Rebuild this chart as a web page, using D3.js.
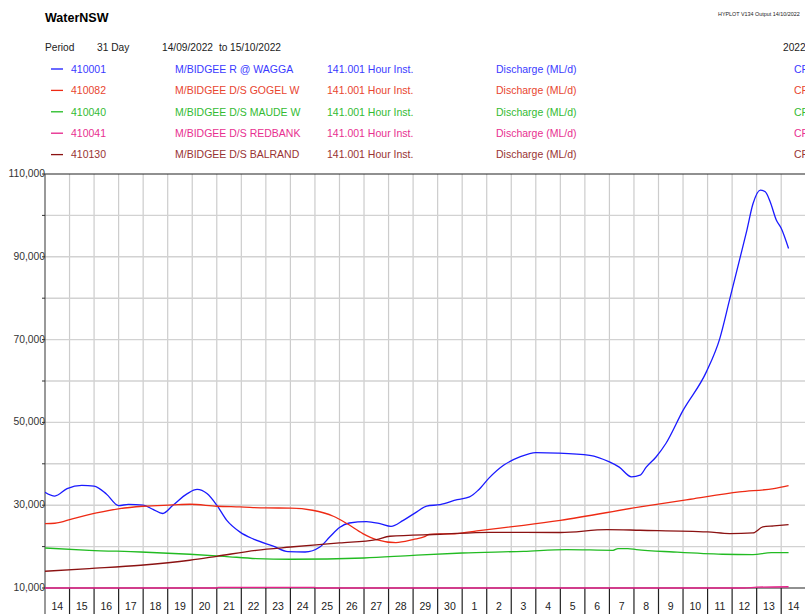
<!DOCTYPE html>
<html>
<head>
<meta charset="utf-8">
<script src="https://cdn.jsdelivr.net/npm/d3@7"></script>
<style>
  body { margin: 0; background: #fff; }
  svg { display: block; font-family: Arial, "Liberation Sans", sans-serif; }
</style>
</head>
<body>
<div id="chart"></div>
<script>
// period shown
const PERIOD_START = Date.UTC(2022, 8, 14);
const PERIOD_DAYS = 31;

// y axis
const Y_GRID = [10000, 20000, 30000, 40000, 50000, 60000, 70000, 80000, 90000, 100000, 110000];
const Y_LABELS = [10000, 30000, 50000, 70000, 90000, 110000];

// legend
const SITE_CODES = ['410001', '410082', '410040', '410041', '410130'];
const SITE_NAMES = ['M/BIDGEE R @ WAGGA', 'M/BIDGEE D/S GOGEL W', 'M/BIDGEE D/S MAUDE W', 'M/BIDGEE D/S REDBANK', 'M/BIDGEE D/S BALRAND'];
const SITE_VARS = ['141.001 Hour Inst.', '141.001 Hour Inst.', '141.001 Hour Inst.', '141.001 Hour Inst.', '141.001 Hour Inst.'];
const SITE_UNITS = ['Discharge (ML/d)', 'Discharge (ML/d)', 'Discharge (ML/d)', 'Discharge (ML/d)', 'Discharge (ML/d)'];

// series: day offset from 14/09/2022 00:00, and discharge ML/d
const WAGGA_DAY = [0, 0.4, 0.9, 1.5, 2.0, 2.5, 3.0, 3.4, 4.0, 4.4, 4.8, 5.2, 5.8, 6.2, 6.6, 7.0, 7.4, 7.95, 8.5, 9.3, 9.9, 10.6, 11.2, 11.6, 12.0, 12.4, 13.1, 13.65, 14.1, 14.6, 15.15, 15.55, 16.1, 16.8, 17.3, 17.65, 18.1, 18.7, 19.35, 20.0, 20.9, 22.2, 23.0, 23.4, 23.9, 24.25, 24.5, 24.9, 25.3, 26.0, 26.95, 27.5, 27.9, 28.3, 28.6, 28.85, 29.15, 29.35, 29.55, 29.8, 30.0, 30.3];
const WAGGA_Q = [33130, 32200, 34000, 34800, 34600, 32700, 29900, 30200, 30000, 29000, 28000, 29900, 32800, 33800, 32800, 30000, 26400, 23500, 21800, 20100, 18800, 18700, 19900, 22300, 24600, 25700, 26050, 25550, 24900, 26350, 28400, 29800, 30150, 31350, 32000, 33600, 36600, 39700, 41650, 42700, 42600, 42050, 40450, 39200, 36850, 37250, 39200, 41650, 44900, 52900, 62200, 70300, 79700, 89200, 96400, 102800, 106100, 105700, 103300, 98900, 96900, 92000];

const GOGEL_DAY = [0, 0.4, 1.15, 2.1, 3.05, 4.0, 5.2, 5.9, 7.0, 7.95, 9.0, 10.0, 10.9, 11.75, 12.3, 12.95, 13.5, 14.3, 15.0, 15.5, 15.65, 16.8, 17.6, 19.5, 21.0, 24.25, 26.3, 28.3, 29.7, 30.3];
const GOGEL_Q = [25570, 25640, 26770, 28130, 29190, 29750, 30060, 30230, 29750, 29580, 29340, 29300, 28780, 27330, 25570, 23150, 21700, 20970, 21700, 22450, 22950, 23150, 23780, 25150, 26360, 29580, 31440, 33200, 34020, 34750];

const MAUDE_DAY = [0, 1.8, 3.9, 5.9, 7.3, 8.6, 10.0, 13.0, 15.0, 17.0, 19.5, 21.25, 23.15, 23.35, 23.75, 24.1, 25.6, 27.6, 28.85, 29.6, 30.3];
const MAUDE_Q = [19670, 19110, 18700, 18150, 17660, 17110, 16940, 17250, 17900, 18460, 18870, 19280, 19110, 19520, 19520, 19280, 18700, 18150, 18070, 18560, 18560];

const REDBANK_DAY = [0, 7.0, 7.05, 11.0, 11.05, 28.5, 29.0, 30.3];
const REDBANK_Q = [10000, 10000, 10150, 10150, 10000, 10000, 10200, 10300];

const BALRAND_DAY = [0, 1.8, 3.9, 5.9, 7.0, 8.6, 10.0, 12.0, 13.5, 14.05, 16.1, 18.1, 21.0, 22.9, 24.25, 27.0, 27.9, 28.85, 29.25, 29.7, 30.3];
const BALRAND_Q = [14040, 14690, 15490, 16700, 17660, 19110, 19900, 20880, 21700, 22500, 22980, 23460, 23400, 24100, 23950, 23540, 23150, 23300, 24740, 24990, 25320];

const LINE_COLORS = ['#1a1aff', '#ee2a14', '#22bb22', '#e6228a', '#8b1212'];
const TEXT_COLORS = ['#3a3aff', '#e84530', '#33bb33', '#e83090', '#993333'];

const W = 805, H = 614;
const margin = { left: 45, top: 174, bottom: 588 };
const plotRight = margin.left + PERIOD_DAYS * 24.54;

const toDate = d => new Date(PERIOD_START + d * 864e5);

const x = d3.scaleUtc()
  .domain([toDate(0), toDate(PERIOD_DAYS)])
  .range([margin.left, plotRight]);

const y = d3.scaleLinear()
  .domain([10000, 110000])
  .range([margin.bottom, margin.top]);

const svg = d3.select('#chart')
  .append('svg')
  .attr('width', W)
  .attr('height', H);

// header
svg.append('text')
  .attr('x', 45).attr('y', 22)
  .attr('font-size', 12.5).attr('font-weight', 'bold')
  .attr('fill', '#000')
  .text('WaterNSW');

svg.append('text')
  .attr('x', 718).attr('y', 16)
  .attr('font-size', 5.4).attr('fill', '#222')
  .text('HYPLOT V134  Output 14/10/2022');

const hdr = [['Period', 45], ['31 Day', 97], ['14/09/2022', 162], ['to', 219], ['15/10/2022', 230], ['2022', 783]];
svg.selectAll('.hdr')
  .data(hdr)
  .enter()
  .append('text')
  .attr('class', 'hdr')
  .attr('x', d => d[1]).attr('y', 51)
  .attr('font-size', 10.2).attr('fill', '#222')
  .text(d => d[0]);

// legend rows
const rowY = i => 69 + i * 21.4;
const legend = svg.selectAll('.leg')
  .data(SITE_CODES)
  .enter()
  .append('g')
  .attr('class', 'leg')
  .attr('transform', (d, i) => `translate(0,${rowY(i)})`);

legend.append('line')
  .attr('x1', 51).attr('x2', 63)
  .attr('stroke', (d, i) => LINE_COLORS[i])
  .attr('stroke-width', 1.3);

const cols = [
  [71, (d, i) => SITE_CODES[i]],
  [175, (d, i) => SITE_NAMES[i]],
  [327, (d, i) => SITE_VARS[i]],
  [496, (d, i) => SITE_UNITS[i]],
  [794, () => 'CF']
];
cols.forEach(([cx, fn]) => {
  legend.append('text')
    .attr('x', cx).attr('y', 3.7)
    .attr('font-size', 10.5)
    .attr('fill', (d, i) => TEXT_COLORS[i])
    .text(fn);
});

// grid
const days = d3.range(0, PERIOD_DAYS + 1);
svg.append('g')
  .selectAll('line')
  .data(days.slice(1))
  .enter()
  .append('line')
  .attr('x1', d => x(toDate(d))).attr('x2', d => x(toDate(d)))
  .attr('y1', margin.top).attr('y2', margin.bottom)
  .attr('stroke', '#cccccc').attr('stroke-width', 1.2);

svg.append('g')
  .selectAll('line')
  .data(Y_GRID.slice(1, -1))
  .enter()
  .append('line')
  .attr('x1', margin.left).attr('x2', W)
  .attr('y1', d => y(d)).attr('y2', d => y(d))
  .attr('stroke', '#d2d2d2').attr('stroke-width', 1.4);

// frame
svg.append('line')
  .attr('x1', margin.left).attr('x2', W)
  .attr('y1', margin.top).attr('y2', margin.top)
  .attr('stroke', '#222').attr('stroke-width', 1.2);
svg.append('line')
  .attr('x1', margin.left).attr('x2', margin.left)
  .attr('y1', margin.top).attr('y2', H)
  .attr('stroke', '#555').attr('stroke-width', 1.2);
svg.append('line')
  .attr('x1', margin.left).attr('x2', W)
  .attr('y1', margin.bottom).attr('y2', margin.bottom)
  .attr('stroke', '#222').attr('stroke-width', 1.2);

// y ticks + labels
svg.append('g')
  .selectAll('line')
  .data(Y_GRID)
  .enter()
  .append('line')
  .attr('x1', margin.left - 3).attr('x2', margin.left)
  .attr('y1', d => y(d)).attr('y2', d => y(d))
  .attr('stroke', '#333');

svg.append('g')
  .selectAll('text')
  .data(Y_LABELS)
  .enter()
  .append('text')
  .attr('x', margin.left).attr('y', d => y(d) + 3)
  .attr('text-anchor', 'end')
  .attr('font-size', 10.3).attr('fill', '#333')
  .text(d3.format(','));

// x axis: day boundaries as ticks, day numbers centred in each day
svg.append('g')
  .selectAll('line')
  .data(days.slice(1))
  .enter()
  .append('line')
  .attr('x1', d => x(toDate(d))).attr('x2', d => x(toDate(d)))
  .attr('y1', margin.bottom).attr('y2', H)
  .attr('stroke', '#222').attr('stroke-width', 1.2);

svg.append('g')
  .selectAll('text')
  .data(days.slice(0, -1))
  .enter()
  .append('text')
  .attr('x', d => x(toDate(d + 0.5)))
  .attr('y', 609.5)
  .attr('text-anchor', 'middle')
  .attr('font-size', 10.5).attr('fill', '#222')
  .text(d => d3.utcFormat('%-d')(toDate(d)));

// series
svg.append('clipPath').attr('id', 'plot-clip')
  .append('rect')
  .attr('x', margin.left).attr('y', margin.top - 2)
  .attr('width', W - margin.left).attr('height', margin.bottom - margin.top + 3);

const series = [
  [WAGGA_DAY, WAGGA_Q],
  [GOGEL_DAY, GOGEL_Q],
  [MAUDE_DAY, MAUDE_Q],
  [BALRAND_DAY, BALRAND_Q],
  [REDBANK_DAY, REDBANK_Q]
];
const seriesColor = [LINE_COLORS[0], LINE_COLORS[1], LINE_COLORS[2], LINE_COLORS[4], LINE_COLORS[3]];

const line = d3.line()
  .x(d => x(toDate(d[0])))
  .y(d => y(d[1]))
  .curve(d3.curveMonotoneX);

const lines = svg.append('g').attr('clip-path', 'url(#plot-clip)');
series.forEach(([days, q], i) => {
  lines.append('path')
    .datum(days.map((d, j) => [d, q[j]]))
    .attr('d', line)
    .attr('fill', 'none')
    .attr('stroke', seriesColor[i])
    .attr('stroke-width', 1.3);
});
</script>
</body>
</html>
